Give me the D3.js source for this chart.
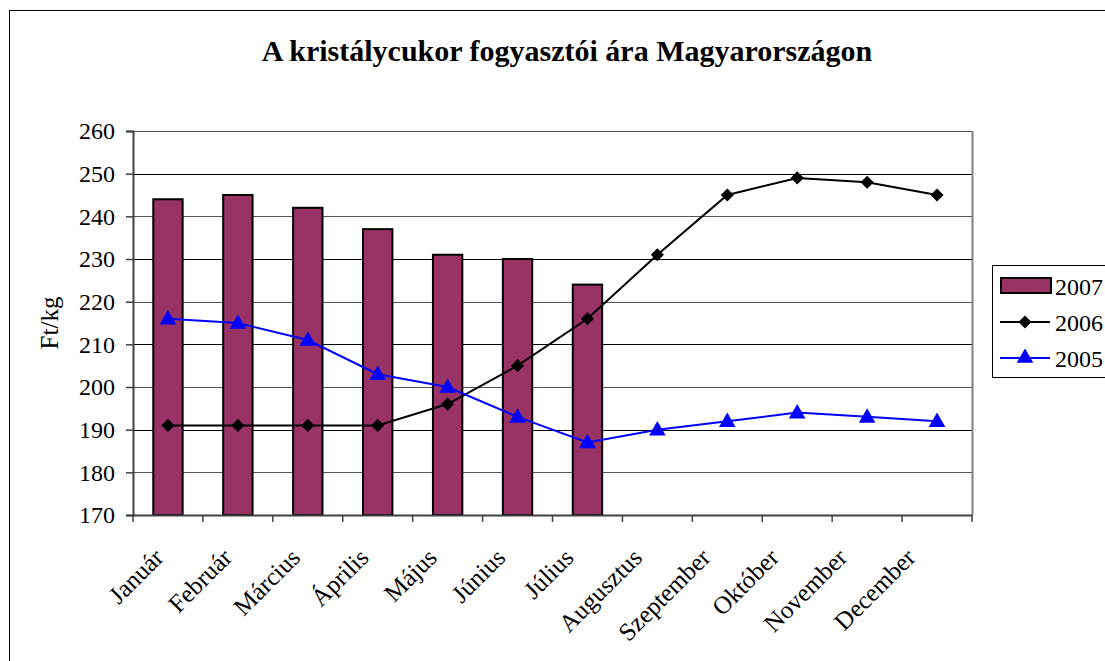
<!DOCTYPE html>
<html>
<head>
<meta charset="utf-8">
<script src="https://cdn.jsdelivr.net/npm/d3@7"></script>
<style>
  body { margin: 0; background: #fff; }
  svg text { font-family: "Liberation Serif", "Times New Roman", serif; }
</style>
</head>
<body>
<svg id="svg1" width="1105" height="661"></svg>
<script>
// havi adatok
var months = ["Január", "Február", "Március", "Április", "Május", "Június",
              "Július", "Augusztus", "Szeptember", "Október", "November", "December"];
var v2007 = [244, 245, 242, 237, 231, 230, 224];
var v2006 = [191, 191, 191, 191, 196, 205, 216, 231, 245, 249, 248, 245];
var v2005 = [216, 215, 211, 203, 200, 193, 187, 190, 192, 194, 193, 192];
var yTicks = [170, 180, 190, 200, 210, 220, 230, 240, 250, 260];

var serif = "'Liberation Serif', 'Times New Roman', serif";
var svg = d3.select("#svg1");

var pLeft = 133, pRight = 972, pTop = 131, pBottom = 515;

// outer frame
svg.append("rect")
    .attr("x", 9.5).attr("y", 10.5)
    .attr("width", 1200).attr("height", 700)
    .attr("fill", "none").attr("stroke", "#000");

svg.append("text")
    .attr("x", 567).attr("y", 61)
    .attr("text-anchor", "middle")
    .style("font-family", serif)
    .attr("font-size", "30px").attr("font-weight", "bold")
    .text("A kristálycukor fogyasztói ára Magyarországon");

var x = d3.scaleBand().domain(months).range([pLeft, pRight]);
var y = d3.scaleLinear().domain([170, 260]).range([pBottom, pTop]);
// label anchors (Excel draws them slightly tighter than the bands)
var xLab = d3.scalePoint().domain(months).range([165, 917]);

// gridlines
svg.append("g").selectAll("line")
    .data(yTicks.slice(1))
    .enter().append("line")
    .attr("x1", pLeft).attr("x2", pRight)
    .attr("y1", function (d) { return Math.round(y(d)) + 0.5; })
    .attr("y2", function (d) { return Math.round(y(d)) + 0.5; })
    .attr("stroke", function (d, i) { return i % 2 ? "#000" : "#555"; })
    .attr("stroke-width", 1);

// right border of plot area
svg.append("line")
    .attr("x1", pRight + 0.5).attr("x2", pRight + 0.5)
    .attr("y1", pTop).attr("y2", pBottom)
    .attr("stroke", "#808080").attr("stroke-width", 2);

// bars 2007
svg.append("g").selectAll("rect")
    .data(v2007)
    .enter().append("rect")
    .attr("x", function (d, i) { return x(months[i]) + x.bandwidth() * 0.29; })
    .attr("width", x.bandwidth() * 0.42)
    .attr("y", function (d) { return y(d); })
    .attr("height", function (d) { return pBottom - y(d); })
    .attr("fill", "#993366").attr("stroke", "#000").attr("stroke-width", 2);

// axes
var yAxis = d3.axisLeft(y).tickValues(yTicks).tickSize(7).tickPadding(11);
var gy = svg.append("g").attr("transform", "translate(" + pLeft + ",0)").call(yAxis);
gy.select(".domain").attr("stroke", "#404040").attr("stroke-width", 2);
gy.selectAll(".tick line").attr("stroke", "#404040").attr("stroke-width", 1.5);
gy.selectAll("text").attr("font-size", "24px").attr("fill", "#000")
    .style("font-family", serif);

var xAxis = d3.axisBottom(x).tickSize(0).tickFormat("");
var gx = svg.append("g").attr("transform", "translate(0," + pBottom + ")").call(xAxis);
gx.select(".domain").attr("stroke", "#404040").attr("stroke-width", 2);

// category ticks at band edges
var edges = months.map(function (m) { return x(m); }).concat([pRight]);
gx.selectAll(".edge").data(edges).enter().append("line")
    .attr("x1", function (d) { return d; }).attr("x2", function (d) { return d; })
    .attr("y1", 0).attr("y2", 7)
    .attr("stroke", "#404040").attr("stroke-width", 1.5);

// x labels
svg.append("g").selectAll("text")
    .data(months)
    .enter().append("text")
    .attr("transform", function (d) {
        return "translate(" + xLab(d) + "," + (pBottom + 44) + ") rotate(-45)";
    })
    .attr("text-anchor", "end")
    .style("font-family", serif)
    .attr("font-size", "25px")
    .text(function (d) { return d; });

// y title
svg.append("text")
    .attr("transform", "translate(58," + ((pTop + pBottom) / 2) + ") rotate(-90)")
    .attr("text-anchor", "middle")
    .style("font-family", serif)
    .attr("font-size", "25px")
    .text("Ft/kg");

var line = d3.line()
    .x(function (d, i) { return x(months[i]) + x.bandwidth() / 2; })
    .y(function (d) { return y(d); });

// 2006
svg.append("path").datum(v2006)
    .attr("d", line).attr("fill", "none")
    .attr("stroke", "#000").attr("stroke-width", 2);
svg.append("g").selectAll("path")
    .data(v2006)
    .enter().append("path")
    .attr("d", d3.symbol(d3.symbolDiamond2, 110))
    .attr("transform", function (d, i) {
        return "translate(" + (x(months[i]) + x.bandwidth() / 2) + "," + y(d) + ")";
    })
    .attr("fill", "#000");

// 2005
svg.append("path").datum(v2005)
    .attr("d", line).attr("fill", "none")
    .attr("stroke", "#0000ff").attr("stroke-width", 2);
svg.append("g").selectAll("path")
    .data(v2005)
    .enter().append("path")
    .attr("d", d3.symbol(d3.symbolTriangle, 120))
    .attr("transform", function (d, i) {
        return "translate(" + (x(months[i]) + x.bandwidth() / 2) + "," + (y(d) + 1) + ")";
    })
    .attr("fill", "#0000ff");

// legend
var leg = svg.append("g").attr("transform", "translate(992,265)");
leg.append("rect")
    .attr("x", 0.5).attr("y", 0.5).attr("width", 200).attr("height", 112)
    .attr("fill", "#fff").attr("stroke", "#000");
var legItems = ["2007", "2006", "2005"];
leg.selectAll(".lt").data(legItems).enter().append("text")
    .attr("x", 63).attr("y", function (d, i) { return 30 + i * 36; })
    .style("font-family", serif)
    .attr("font-size", "24px")
    .text(function (d) { return d; });
leg.append("rect")
    .attr("x", 9).attr("y", 13).attr("width", 50).attr("height", 15)
    .attr("fill", "#993366").attr("stroke", "#000").attr("stroke-width", 2);
leg.append("line").attr("x1", 8).attr("x2", 58).attr("y1", 57).attr("y2", 57)
    .attr("stroke", "#000").attr("stroke-width", 2);
leg.append("path").attr("d", d3.symbol(d3.symbolDiamond2, 110))
    .attr("transform", "translate(33,57)").attr("fill", "#000");
leg.append("line").attr("x1", 8).attr("x2", 58).attr("y1", 93).attr("y2", 93)
    .attr("stroke", "#0000ff").attr("stroke-width", 2);
leg.append("path").attr("d", d3.symbol(d3.symbolTriangle, 120))
    .attr("transform", "translate(33,93)").attr("fill", "#0000ff");
</script>
</body>
</html>
